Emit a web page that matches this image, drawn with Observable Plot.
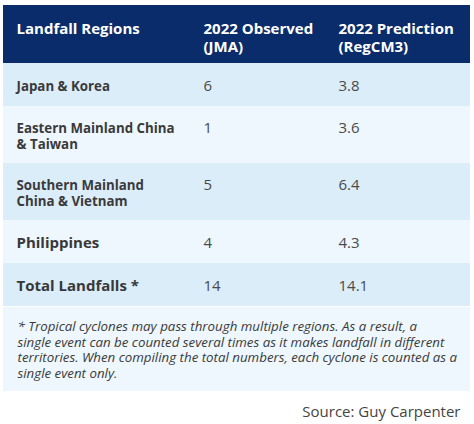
<!DOCTYPE html>
<html>
<head>
<meta charset="utf-8">
<script src="https://cdn.jsdelivr.net/npm/d3@7"></script>
<script src="https://cdn.jsdelivr.net/npm/@observablehq/plot@0.6"></script>
<style>
  html, body { margin: 0; padding: 0; background: #ffffff; }
  svg { display: block; }
</style>
</head>
<body>
<div id="chart"></div>
<script>
// ---- data ----
const headers = ["Landfall Regions", "2022 Observed\n(JMA)", "2022 Prediction\n(RegCM3)"];
const regions = ["Japan & Korea", "Eastern Mainland China\n& Taiwan", "Southern Mainland\nChina & Vietnam", "Philippines", "Total Landfalls *"];
const observed = [6, 1, 5, 4, 14];
const predicted = ["3.8", "3.6", "6.4", "4.3", "14.1"];
const footnoteLines = [
  "* Tropical cyclones may pass through multiple regions. As a result, a",
  "single event can be counted several times as it makes landfall in different",
  "territories. When compiling the total numbers, each cyclone is counted as a",
  "single event only."
];
const source = "Source: Guy Carpenter";

// ---- layout ----
const W = 474, H = 424;
const leftEdge = 3, rightEdge = 470;
const colX = [16, 203, 338];
const headTop = 5, headBottom = 63;
const headLineH = 18, headFirstY = 28;
const lineH = 16.5;
let cursorY = headBottom;
const rows = regions.map((r, i) => {
  const n = r.split("\n").length;
  const h = n === 1 ? 43 : 57;
  const row = {label: r, obs: String(observed[i]), pred: predicted[i], y1: cursorY, y2: cursorY + h, n, i};
  cursorY += h;
  return row;
});
const footTop = cursorY + 1, footBottom = 391;
const headRows = headers.map((h, i) => ({text: h, x: colX[i], n: h.split("\n").length}));

const font = "'Open Sans', 'Noto Sans', sans-serif";
const labelY = d => (d.y1 + d.y2) / 2 + 1;
const valueY = d => (d.y1 + d.y2) / 2 + 1 - (d.n - 1) * lineH / 2;

const chart = Plot.plot({
  width: W,
  height: H,
  margin: 0,
  x: {domain: [0, W], range: [0, W], axis: null},
  y: {domain: [0, H], range: [0, H], axis: null},
  style: {fontFamily: font, background: "#ffffff"},
  marks: [
    Plot.rect([0], {x1: leftEdge, x2: rightEdge, y1: headTop, y2: headBottom, fill: "#0b2c6b"}),
    Plot.rect(rows, {x1: leftEdge, x2: rightEdge, y1: "y1", y2: "y2", fill: d => d.i % 2 === 0 ? "#dcedfa" : "#eef7fd"}),
    Plot.rect([0], {x1: leftEdge, x2: rightEdge, y1: footTop, y2: footBottom, fill: "#eef7fd"}),
    Plot.text(headRows, {x: "x", y: d => headFirstY + (d.n - 1) * headLineH / 2, text: "text", textAnchor: "start", lineAnchor: "middle",
      fill: "#ffffff", fontSize: 15, fontWeight: 700, lineHeight: headLineH / 15}),
    Plot.text(rows.filter(d => d.i < 3), {x: colX[0], y: labelY, text: "label", textAnchor: "start", lineAnchor: "middle",
      fill: "#3a3a3a", fontSize: 13.3, fontWeight: 700, lineHeight: 1.22}),
    Plot.text(rows.filter(d => d.i >= 3), {x: colX[0], y: labelY, text: "label", textAnchor: "start", lineAnchor: "middle",
      fill: "#383838", fontSize: 15, fontWeight: 700}),
    Plot.text(rows, {x: colX[1], y: valueY, text: "obs", textAnchor: "start", lineAnchor: "middle",
      fill: "#4a4a4a", fontSize: 15, fontWeight: 400}),
    Plot.text(rows, {x: colX[2], y: valueY, text: "pred", textAnchor: "start", lineAnchor: "middle",
      fill: "#4a4a4a", fontSize: 15, fontWeight: 400}),
    Plot.text([footnoteLines.join("\n")], {x: 17, y: (footTop + footBottom) / 2, text: d => d, textAnchor: "start", lineAnchor: "middle",
      fill: "#3a3a3a", fontSize: 13.3, fontStyle: "italic", lineHeight: 1.16}),
    Plot.text([source], {x: 460, y: 412, text: d => d, textAnchor: "end", lineAnchor: "middle",
      fill: "#444444", fontSize: 15})
  ]
});
document.getElementById("chart").appendChild(chart);
</script>
</body>
</html>
